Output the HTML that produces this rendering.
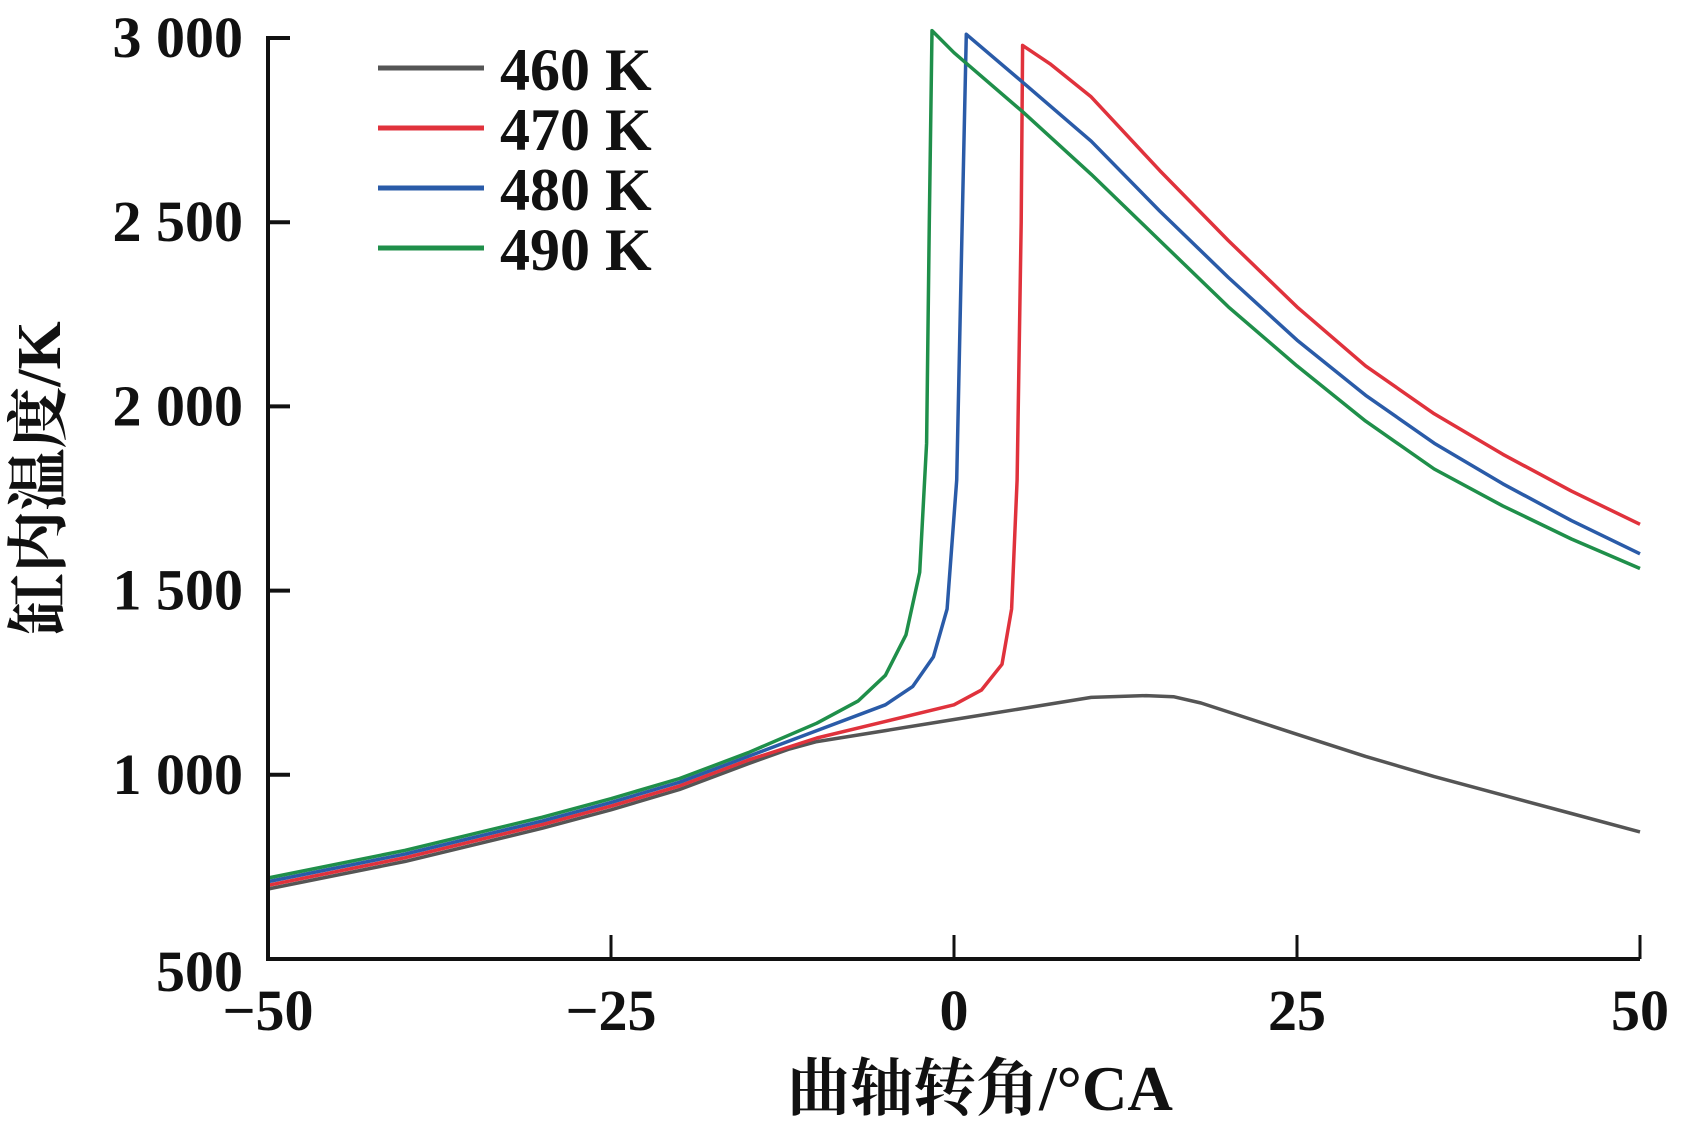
<!DOCTYPE html>
<html><head><meta charset="utf-8"><style>
html,body{margin:0;padding:0;background:#fff;}
svg{display:block;}
text{font-family:"Liberation Serif","Noto Serif CJK SC",serif;fill:#111;}
</style></head><body>
<svg id="chart" width="1686" height="1125" viewBox="0 0 1686 1125">
<g id="plot"></g>
<g id="axes"></g>
<g id="legend"></g>
<text x="980" y="1110" font-size="63" font-weight="bold" text-anchor="middle">曲轴转角/°CA</text>
<text transform="translate(60,478) rotate(-90)" font-size="62" font-weight="bold" text-anchor="middle">缸内温度/K</text>
</svg>
<script>
const xTicks=[-50,-25,0,25,50];
const xTickLabels=["\u221250","\u221225","0","25","50"];
const yTicks=[500,1000,1500,2000,2500,3000];
const yTickLabels=["500","1 000","1 500","2 000","2 500","3 000"];
const seriesNames=["460 K","470 K","480 K","490 K"];
const seriesColors=["#555555","#e0323c","#2a5ba8","#1f8f4a"];
const x460=[-50,-40,-30,-25,-20,-15,-12,-10,-5,0,5,10,14,16,18,25,30,35,40,45,50];
const y460=[690,765,855,905,960,1030,1070,1090,1120,1150,1180,1210,1215,1212,1195,1110,1050,995,945,895,845];
const x470=[-50,-40,-30,-25,-20,-15,-10,-5,0,2,3.5,4.2,4.6,4.9,5,7,10,15,20,25,30,35,40,45,50];
const y470=[700,775,865,915,970,1040,1100,1145,1190,1230,1300,1450,1800,2500,2980,2930,2840,2640,2450,2270,2110,1980,1870,1770,1680];
const x480=[-50,-40,-30,-25,-20,-15,-10,-5,-3,-1.5,-0.5,0.2,0.6,0.9,5,10,15,20,25,30,35,40,45,50];
const y480=[710,785,875,925,980,1050,1120,1190,1240,1320,1450,1800,2500,3010,2880,2720,2530,2350,2180,2030,1900,1790,1690,1600];
const x490=[-50,-40,-30,-25,-20,-15,-10,-7,-5,-3.5,-2.5,-2,-1.8,-1.6,0,5,10,15,20,25,30,35,40,45,50];
const y490=[720,795,885,935,990,1060,1140,1200,1270,1380,1550,1900,2500,3020,2960,2800,2630,2450,2270,2110,1960,1830,1730,1640,1560];
const seriesX=[x460,x470,x480,x490];
const seriesY=[y460,y470,y480,y490];

const L=268,R=1640,T=38,B=959;
const sx=v=>L+(v+50)/100*(R-L);
const sy=v=>B-(v-500)/2500*(B-T);
const NS="http://www.w3.org/2000/svg";
function mk(tag,attrs,parent){const e=document.createElementNS(NS,tag);for(const k in attrs)e.setAttribute(k,attrs[k]);parent.appendChild(e);return e;}
const plot=document.getElementById('plot'),axes=document.getElementById('axes'),legend=document.getElementById('legend');

seriesX.forEach((xs,i)=>{
  const pts=xs.map((x,j)=>sx(x).toFixed(1)+','+sy(seriesY[i][j]).toFixed(1)).join(' ');
  const p=mk('polyline',{points:pts,fill:'none',stroke:seriesColors[i],'stroke-width':3.5,'stroke-linejoin':'round'},plot);
  
  
});

const ax=mk('path',{d:`M${L+22},${T} H${L} V${B} H${R}`,fill:'none',stroke:'#111','stroke-width':4},axes);


yTicks.forEach((v,i)=>{
  if(v!==500&&v!==3000){const t=mk('line',{x1:L,x2:L+22,y1:sy(v),y2:sy(v),stroke:'#111','stroke-width':4},axes);
  
  }
  const tx=mk('text',{x:243,y:sy(v)+(v===500?32:19),'font-size':58,'font-weight':'bold','text-anchor':'end'},axes);
  tx.textContent=yTickLabels[i];
  
  
});
xTicks.forEach((v,i)=>{
  if(v!==-50){const t=mk('line',{x1:sx(v),x2:sx(v),y1:B,y2:B-24,stroke:'#111','stroke-width':3},axes);
  
  }
  const tx=mk('text',{x:sx(v),y:1030,'font-size':58,'font-weight':'bold','text-anchor':'middle'},axes);
  tx.textContent=xTickLabels[i];
  
  
});
seriesNames.forEach((n,i)=>{
  const y=68+i*60;
  const g=mk('g',{},legend);
  
  
  mk('line',{x1:378,x2:484,y1:y,y2:y,stroke:seriesColors[i],'stroke-width':5},g);
  const t=mk('text',{x:500,y:y+22,'font-size':60,'font-weight':'bold'},g);
  t.textContent=n;
});
</script>
</body></html>
